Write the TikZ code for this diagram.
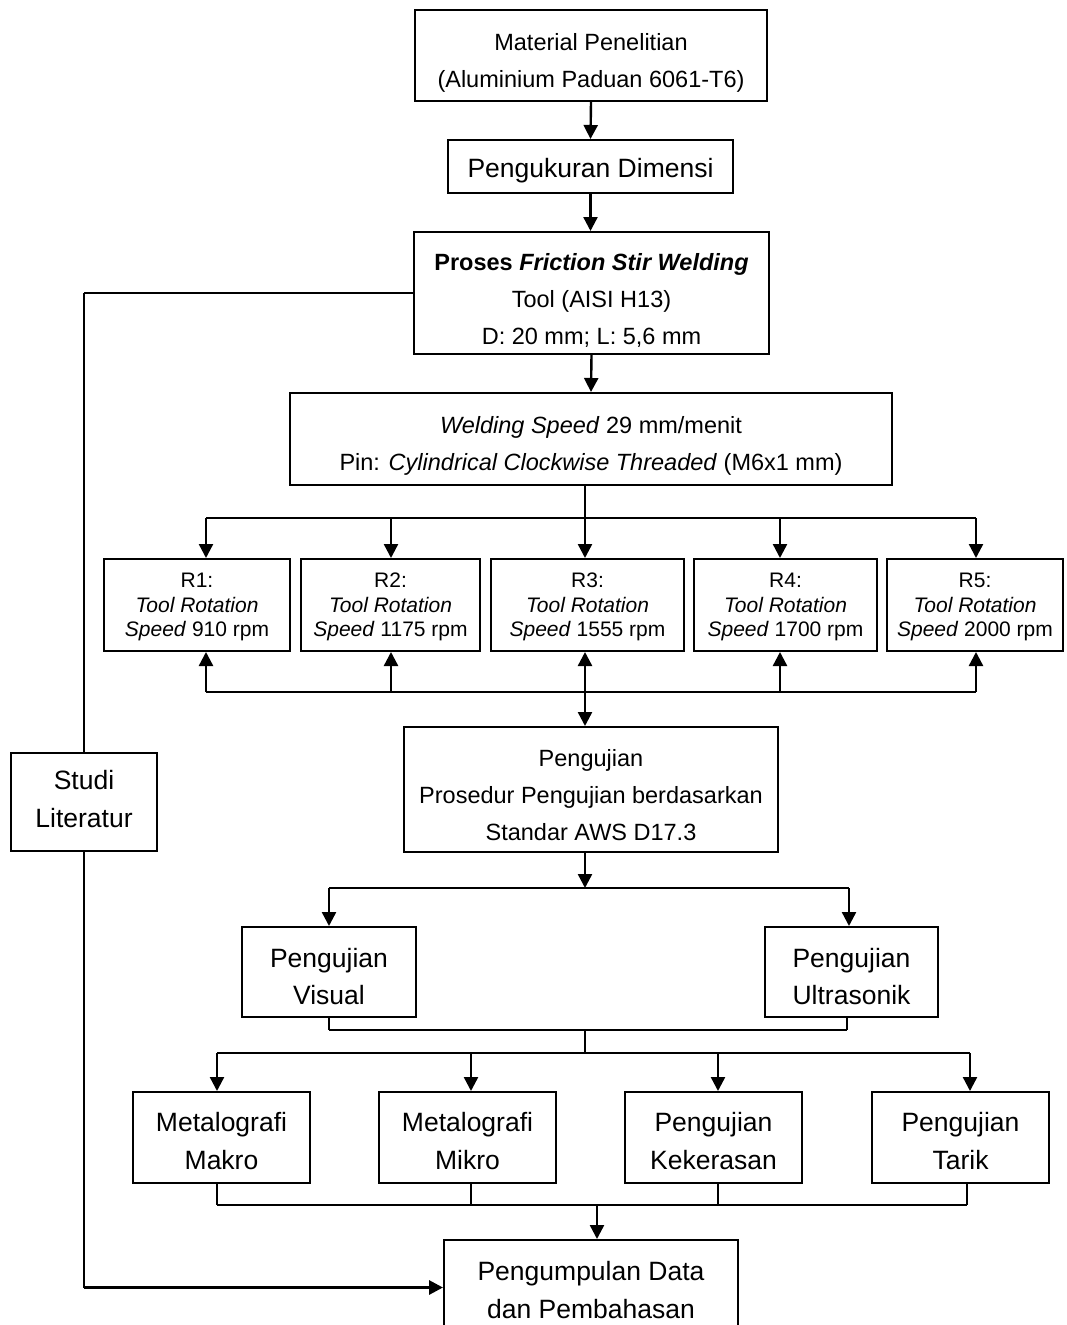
\documentclass[tikz,border=0pt]{standalone}
\usepackage{fontspec}
\setmainfont{Liberation Sans}
\usetikzlibrary{arrows.meta}
\tikzset{
 box/.style={draw, line width=2pt, inner sep=0pt, anchor=center},
 txt/.style={inner sep=0pt, align=center, anchor=center},
 tip/.tip={Triangle[length=14pt,width=14pt]},
 arr/.style={line width=2.4pt, -tip},
 dbl/.style={line width=2.4pt, tip-tip},
 ln/.style={line width=2.4pt},
 thinln/.style={line width=1.4pt},
 fbig/.style={font=\fontsize{26.5}{37.5}\selectfont},
 fmed/.style={font=\fontsize{23.5}{37}\selectfont},
 fsm/.style={font=\fontsize{21}{24.5}\selectfont},
}
\begin{document}
\begin{tikzpicture}[x=1pt,y=-1pt]
\useasboundingbox (0,0) rectangle (1067,1325);
\fill[white] (0,0) rectangle (1067,1325);

% boxes
\node[box,minimum width=352pt,minimum height=91pt] (m1) at (591,55.5) {};
\node[txt,fmed] (m1t) at ([yshift=-7pt]m1.center) {Material Penelitian\\(Aluminium Paduan 6061-T6)};
\node[box,minimum width=285pt,minimum height=53pt] (m2) at (590.5,166.5) {};
\node[txt,fbig] (m2t) at ([yshift=-4.5pt]m2.center) {Pengukuran Dimensi};
\node[box,minimum width=355pt,minimum height=122pt] (m3) at (591.5,293) {};
\node[txt,fmed] (m3t) at ([yshift=-7pt]m3.center) {\textbf{Proses \textit{Friction Stir Welding}}\\Tool (AISI H13)\\D: 20 mm; L: 5,6 mm};
\node[box,minimum width=602pt,minimum height=92pt] (m4) at (591,439) {};
\node[txt,fmed] (m4t) at ([yshift=-7pt]m4.center) {\textit{Welding Speed} 29 mm/menit\\Pin: \textit{Cylindrical Clockwise Threaded} (M6x1 mm)};

\node[box,minimum width=186pt,minimum height=92pt] (r1) at (197,605) {};
\node[txt,fsm] (r1t) at ([yshift=-2pt]r1.center) {R1:\\\textit{Tool Rotation}\\\textit{Speed} 910 rpm};
\node[box,minimum width=179pt,minimum height=92pt] (r2) at (390.5,605) {};
\node[txt,fsm] (r2t) at ([yshift=-2pt]r2.center) {R2:\\\textit{Tool Rotation}\\\textit{Speed} 1175 rpm};
\node[box,minimum width=193pt,minimum height=92pt] (r3) at (587.5,605) {};
\node[txt,fsm] (r3t) at ([yshift=-2pt]r3.center) {R3:\\\textit{Tool Rotation}\\\textit{Speed} 1555 rpm};
\node[box,minimum width=183pt,minimum height=92pt] (r4) at (785.5,605) {};
\node[txt,fsm] (r4t) at ([yshift=-2pt]r4.center) {R4:\\\textit{Tool Rotation}\\\textit{Speed} 1700 rpm};
\node[box,minimum width=176pt,minimum height=92pt] (r5) at (975,605) {};
\node[txt,fsm] (r5t) at ([yshift=-2pt]r5.center) {R5:\\\textit{Tool Rotation}\\\textit{Speed} 2000 rpm};

\node[box,minimum width=374pt,minimum height=125pt] (pj) at (591,789.5) {};
\node[txt,fmed] (pjt) at ([yshift=-6pt]pj.center) {Pengujian\\Prosedur Pengujian berdasarkan\\Standar AWS D17.3};
\node[box,minimum width=146pt,minimum height=98pt] (sl) at (84,802) {};
\node[txt,fbig] (slt) at ([yshift=3pt]sl.center) {Studi\\Literatur};

\node[box,minimum width=174pt,minimum height=90pt] (vis) at (329,972) {};
\node[txt,fbig] (vist) at ([yshift=-4.5pt]vis.center) {Pengujian\\Visual};
\node[box,minimum width=173pt,minimum height=90pt] (ult) at (851.5,972) {};
\node[txt,fbig] (ultt) at ([yshift=-4.5pt]ult.center) {Pengujian\\Ultrasonik};

\node[box,minimum width=177pt,minimum height=91pt] (mak) at (221.5,1137.5) {};
\node[txt,fbig] (makt) at ([yshift=-3.5pt]mak.center) {Metalografi\\Makro};
\node[box,minimum width=177pt,minimum height=91pt] (mik) at (467.5,1137.5) {};
\node[txt,fbig] (mikt) at ([yshift=-3.5pt]mik.center) {Metalografi\\Mikro};
\node[box,minimum width=177pt,minimum height=91pt] (kek) at (713.5,1137.5) {};
\node[txt,fbig] (kekt) at ([yshift=-3.5pt]kek.center) {Pengujian\\Kekerasan};
\node[box,minimum width=177pt,minimum height=91pt] (tar) at (960.5,1137.5) {};
\node[txt,fbig] (tart) at ([yshift=-3.5pt]tar.center) {Pengujian\\Tarik};

\node[box,minimum width=294pt,minimum height=95pt] (fin) at (591,1287.5) {};
\node[txt,fbig] (fint) at ([yshift=-2.5pt]fin.center) {Pengumpulan Data\\dan Pembahasan};

% top chain
\draw[arr] (m1.south) -- (m2.north);
\draw[arr] (m2.south) -- (m2.south |- m3.north);
\draw[arr] (m3.south) -- (m4.north);

% branch to R boxes
\coordinate (t1) at (206,518);
\coordinate (t2) at (391,518);
\coordinate (t3) at (585,518);
\coordinate (t4) at (780,518);
\coordinate (t5) at (976,518);
\draw[ln] (t3 |- m4.south) -- (t3);
\draw[ln] (t1) -- (t5);
\foreach \i in {1,...,5} \draw[arr] (t\i) -- (t\i |- r\i.north);

\coordinate (u1) at (206,692);
\coordinate (u2) at (391,692);
\coordinate (u3) at (585,692);
\coordinate (u4) at (780,692);
\coordinate (u5) at (976,692);
\draw[ln] (u1) -- (u5);
\foreach \i in {1,2,4,5} \draw[arr] (u\i) -- (u\i |- r\i.south);
\draw[dbl] (u3 |- r3.south) -- (u3 |- pj.north);

% Studi literatur path
\draw[ln] (m3.west) -- (m3.west -| sl.north);
\draw[thinln] (m3.west -| sl.north) -- (sl.north);
\draw[thinln] (sl.south) -- (sl.south |- fin.west);
\draw[arr,line width=3pt] (sl.south |- fin.west) -- (fin.west);

% to visual / ultrasonik
\coordinate (c0) at (585,888);
\coordinate (v1) at (329,888);
\coordinate (v2) at (849,888);
\draw[arr] (u3 |- pj.south) -- (c0);
\draw[ln] (v1) -- (v2);
\draw[arr] (v1) -- (v1 |- vis.north);
\draw[arr] (v2) -- (v2 |- ult.north);

\coordinate (w1) at (329,1030);
\coordinate (w2) at (847,1030);
\coordinate (w0) at (585,1030);
\coordinate (x0) at (585,1053);
\draw[thinln] (w1 |- vis.south) -- (w1);
\draw[thinln] (w2 |- ult.south) -- (w2);
\draw[ln] (w1) -- (w2);
\draw[thinln] (w0) -- (x0);

\coordinate (s1) at (217,1053);
\coordinate (s2) at (471,1053);
\coordinate (s3) at (718,1053);
\coordinate (s4) at (970,1053);
\draw[ln] (s1) -- (s4);
\draw[arr] (s1) -- (s1 |- mak.north);
\draw[arr] (s2) -- (s2 |- mik.north);
\draw[arr] (s3) -- (s3 |- kek.north);
\draw[arr] (s4) -- (s4 |- tar.north);

\coordinate (e1) at (217,1205);
\coordinate (e2) at (471,1205);
\coordinate (e3) at (718,1205);
\coordinate (e4) at (967,1205);
\draw[thinln] (e1 |- mak.south) -- (e1);
\draw[thinln] (e2 |- mik.south) -- (e2);
\draw[thinln] (e3 |- kek.south) -- (e3);
\draw[thinln] (e4 |- tar.south) -- (e4);
\draw[ln] (e1) -- (e4);
\coordinate (f0) at (597,1205);
\draw[arr] (f0) -- (f0 |- fin.north);
\end{tikzpicture}
\end{document}
